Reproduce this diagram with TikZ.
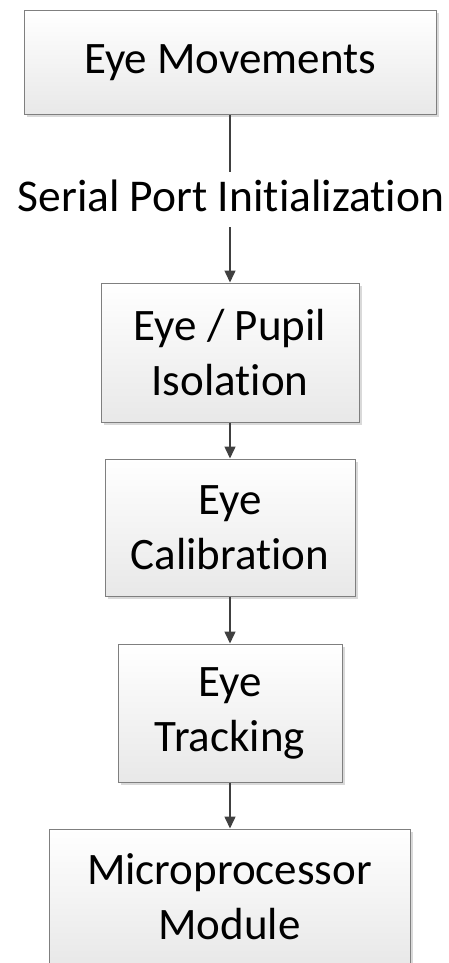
\documentclass[tikz,border=0pt]{standalone}
\usepackage{fontspec}
\setmainfont{Carlito}[Ligatures=NoCommon]
\usetikzlibrary{arrows.meta,shadows}
\definecolor{edgegray}{HTML}{7F7F7F}
\definecolor{linkgray}{HTML}{404040}
\begin{document}
\begin{tikzpicture}[x=1pt,y=-1pt,
  stagebox/.style={draw=edgegray, line width=1pt, top color=white, bottom color=black!9,
    drop shadow={shadow xshift=2.5pt, shadow yshift=-2.5pt, fill=black!15, opacity=1},
    align=center, inner sep=0pt,
    font=\fontsize{45pt}{55pt}\selectfont},
  link/.style={draw=linkgray, line width=1.5pt},
  flow/.style={link, -{Triangle[width=11pt,length=12pt]}}]
  \useasboundingbox (0,0) rectangle (448,963);

  % processing stages, top to bottom
  \node[stagebox, minimum width=412pt, minimum height=104pt] (move) at (230,63) {Eye Movements};
  \node[inner xsep=0pt, inner ysep=8pt, text height=31pt, text depth=8pt,
        font=\fontsize{45.5pt}{55pt}\selectfont] (serial) at (231,199.5) {Serial Port Initialization};
  \node[stagebox, minimum width=258pt, minimum height=139pt] (pupil) at (230,352.5) {Eye / Pupil\\Isolation};
  \node[stagebox, minimum width=250pt, minimum height=137pt] (calib) at (230,527.5) {Eye\\Calibration};
  \node[stagebox, minimum width=224pt, minimum height=138pt] (track) at (230,713) {Eye\\Tracking};
  \node[stagebox, minimum width=361pt, minimum height=136pt] (micro) at (229.5,897) {Microprocessor\\Module};

  % connectors
  \draw[link] (move.south) -- (move.south |- serial.north);
  \draw[flow] (pupil.north |- serial.south) -- (pupil.north);
  \draw[flow] (pupil) -- (calib);
  \draw[flow] (calib) -- (track);
  \draw[flow] (track.south) -- (track.south |- micro.north);
\end{tikzpicture}
\end{document}
